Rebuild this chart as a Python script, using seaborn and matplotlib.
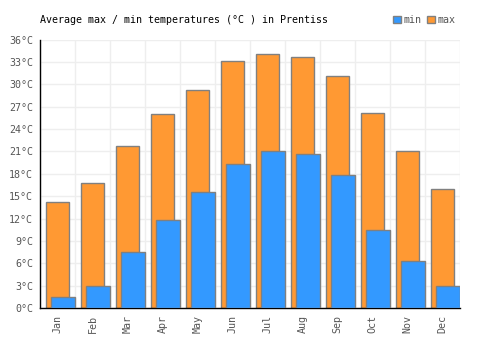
import numpy as np
import pandas as pd
import seaborn as sns
import matplotlib
matplotlib.use("Agg")
import matplotlib.pyplot as plt
from matplotlib.patches import Patch

months = ["Jan", "Feb", "Mar", "Apr", "May", "Jun", "Jul", "Aug", "Sep", "Oct", "Nov", "Dec"]
t_max = [14.2, 16.7, 21.7, 26.0, 29.3, 33.1, 34.0, 33.6, 31.1, 26.1, 21.0, 16.0]
t_min = [1.5, 3.0, 7.5, 11.8, 15.5, 19.3, 21.1, 20.6, 17.9, 10.5, 6.3, 3.0]
y_ticks = list(range(0, 37, 3))

max_color = "#ff9933"
min_color = "#3399ff"
edge = "#808080"
grid_col = "#eeeeee"
text_col = "#555555"

sns.set_style("white")
plt.rcParams["font.family"] = ["DejaVu Sans Mono"]

df = pd.DataFrame({"pos": np.arange(len(months)), "month": months, "max": t_max, "min": t_min})
# min bars sit a little to the right of the max bars
df["pos_min"] = df["pos"] + 0.16

fig = plt.figure(figsize=(5, 3.5), dpi=100)
ax = fig.add_axes([0.08, 0.12, 0.84, 0.767])

sns.barplot(data=df, x="pos", y="max", native_scale=True, width=0.65, color=max_color,
            edgecolor=edge, linewidth=1, saturation=1, errorbar=None, ax=ax, zorder=2)
sns.barplot(data=df, x="pos_min", y="min", native_scale=True, width=0.69, color=min_color,
            edgecolor=edge, linewidth=1, saturation=1, errorbar=None, ax=ax, zorder=3)

ax.set_xlim(-0.5, len(months) - 0.5)
ax.set_ylim(0, 36)
ax.set_xticks(np.arange(-0.5, len(months), 1), minor=True)
ax.set_yticks(y_ticks, [f"{v}°C" for v in y_ticks])
ax.grid(False)
ax.grid(True, which="minor", axis="x", color=grid_col, lw=1, zorder=0)
ax.grid(True, which="major", axis="y", color=grid_col, lw=1, zorder=0)
ax.set_axisbelow(True)
ax.tick_params(axis="both", which="both", length=0, labelsize=7.2, labelcolor=text_col)
ax.tick_params(axis="y", pad=5)
ax.set_xlabel("")
ax.set_ylabel("")
ax.set_xticks(df["pos"])
ax.set_xticklabels(months, rotation=90, fontsize=7.2, color=text_col)
ax.tick_params(axis="x", pad=5)
for s in ["top", "right"]:
    ax.spines[s].set_visible(False)
for s in ["left", "bottom"]:
    ax.spines[s].set_color("black")
    ax.spines[s].set_linewidth(1)

fig.text(0.08, 1 - 20 / 350, "Average max / min temperatures (°C ) in Prentiss",
         fontsize=7.2, color="black", va="center", ha="left")

handles = [Patch(facecolor=min_color, edgecolor=edge, label="min"),
           Patch(facecolor=max_color, edgecolor=edge, label="max")]
leg = fig.legend(handles=handles, loc="center right", bbox_to_anchor=(0.91, 1 - 20 / 350),
                 ncol=2, frameon=False, fontsize=7.2, handlelength=0.8, handleheight=0.8,
                 handletextpad=0.2, columnspacing=0.6, borderaxespad=0, borderpad=0)
for t in leg.get_texts():
    t.set_color(text_col)

fig.savefig("out.png", dpi=100)
